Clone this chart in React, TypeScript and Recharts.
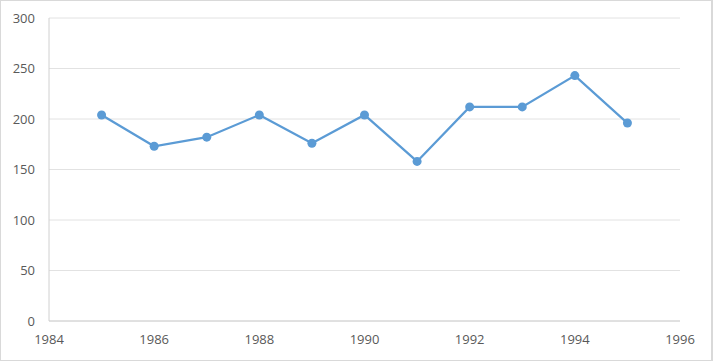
import { LineChart, Line, XAxis, YAxis, CartesianGrid } from 'recharts'

const years = [1985, 1986, 1987, 1988, 1989, 1990, 1991, 1992, 1993, 1994, 1995]
const values = [204, 173, 182, 204, 176, 204, 158, 212, 212, 243, 196]
const xTicks = [1984, 1986, 1988, 1990, 1992, 1994, 1996]
const yTicks = [0, 50, 100, 150, 200, 250, 300]

const data = years.map((year, i) => ({ year, value: values[i] }))

const tickStyle = { fill: '#595959', fontSize: 13, fontFamily: '"Open Sans", sans-serif' }

export default function App() {
  return (
    <div
      style={{
        position: 'absolute',
        left: 0,
        top: 0,
        width: 713,
        height: 361,
        boxSizing: 'border-box',
        border: '1px solid #d9d9d9',
        borderRightWidth: 2,
        background: '#fff',
      }}
    >
      <LineChart
        width={713}
        height={361}
        data={data}
        margin={{ top: 18, right: 33, left: -1, bottom: 10 }}
        style={{ position: 'absolute', left: -1, top: -1 }}
      >
        <CartesianGrid vertical={false} stroke="#e2e2e2" />
        <XAxis
          dataKey="year"
          type="number"
          domain={[1984, 1996]}
          ticks={xTicks}
          tickLine={false}
          axisLine={{ stroke: '#d0d0d0' }}
          tick={tickStyle}
          tickMargin={8}
          height={30}
        />
        <YAxis
          domain={[0, 300]}
          ticks={yTicks}
          tickLine={false}
          axisLine={{ stroke: '#d0d0d0' }}
          tick={tickStyle}
          tickMargin={8}
          width={50}
        />
        <Line
          dataKey="value"
          stroke="#5b9bd5"
          strokeWidth={2.25}
          dot={{ r: 4.5, fill: '#5b9bd5', stroke: '#5b9bd5', strokeWidth: 0 }}
          isAnimationActive={false}
        />
      </LineChart>
    </div>
  )
}
